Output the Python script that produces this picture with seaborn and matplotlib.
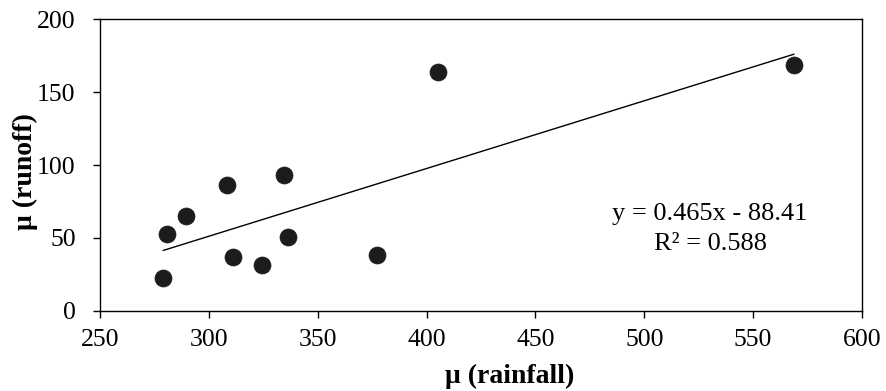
import numpy as np
import pandas as pd
import matplotlib
matplotlib.use("Agg")
import matplotlib.pyplot as plt
import seaborn as sns

# Mean rainfall vs mean runoff per station
rainfall = [279.0, 280.6, 289.3, 308.2, 311.0, 324.4, 334.6, 336.5, 377.2, 405.2, 568.8]
runoff = [22.5, 52.7, 65.0, 86.5, 36.9, 31.2, 93.0, 50.4, 38.0, 163.7, 168.7]

# Linear trend reported on the chart
slope = 0.465
intercept = -88.41
r_squared = 0.588

x_ticks = [250, 300, 350, 400, 450, 500, 550, 600]
y_ticks = [0, 50, 100, 150, 200]

sns.set_theme(style="white")
plt.rcParams["font.family"] = ["Liberation Serif", "DejaVu Serif"]

df = pd.DataFrame({"rainfall": rainfall, "runoff": runoff})
xs = np.array([min(rainfall), max(rainfall)])
trend = pd.DataFrame({"rainfall": xs, "runoff": slope * xs + intercept})

fig = plt.figure(figsize=(8.87, 3.91), dpi=100)
ax = fig.add_axes([0.1127, 0.2054, 0.8591, 0.7452])

sns.lineplot(data=trend, x="rainfall", y="runoff", ax=ax, color="black", linewidth=1.0)
sns.scatterplot(data=df, x="rainfall", y="runoff", ax=ax, s=150, color="#1c1c1c",
                edgecolor="#1c1c1c", linewidth=0.5, zorder=3)

ax.set_xlim(250, 600)
ax.set_ylim(0, 200)
ax.set_xticks(x_ticks)
ax.set_yticks(y_ticks)
ax.tick_params(axis="both", which="major", direction="out", length=5, width=1.0,
               color="black", labelsize=18.5, labelcolor="black",
               bottom=True, left=True, top=False, right=False)
ax.tick_params(axis="x", pad=8)
ax.tick_params(axis="y", pad=12.5)
for sp in ax.spines.values():
    sp.set_visible(True)
    sp.set_color("black")
    sp.set_linewidth(1.0)

ax.set_xlabel("μ (rainfall)", fontsize=20, fontweight="bold", color="black", va="center")
ax.xaxis.set_label_coords(0.538, -0.224)
ax.set_ylabel("μ (runoff)", fontsize=20, fontweight="bold", color="black",
              va="center", ha="center")
ax.yaxis.set_label_coords(-0.0978, 0.479)

ax.text(530.2, 62.3, f"y = {slope:.3f}x - {abs(intercept):.2f}", ha="center", va="baseline",
        fontsize=19, color="black")
ax.text(530.2, 41.7, f"R² = {r_squared:.3f}", ha="center", va="baseline",
        fontsize=19, color="black")

fig.savefig("out.png", dpi=100, facecolor="white")
